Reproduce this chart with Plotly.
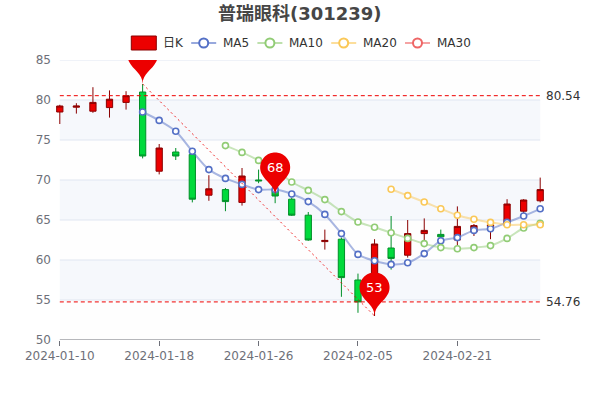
import math
import plotly.graph_objects as go

# ---------------- data ----------------
dates = ["2024-01-10", "2024-01-11", "2024-01-12", "2024-01-15", "2024-01-16",
         "2024-01-17", "2024-01-18", "2024-01-19", "2024-01-22", "2024-01-23",
         "2024-01-24", "2024-01-25", "2024-01-26", "2024-01-29", "2024-01-30",
         "2024-01-31", "2024-02-01", "2024-02-02", "2024-02-05", "2024-02-06",
         "2024-02-07", "2024-02-08", "2024-02-19", "2024-02-20", "2024-02-21",
         "2024-02-22", "2024-02-23", "2024-02-26", "2024-02-27", "2024-02-28"]
opens = [78.5, 79.1, 78.6, 79.05, 79.7, 81.0, 71.1, 73.5, 73.2, 68.1,
         68.8, 67.2, 70.0, 68.8, 67.6, 65.6, 62.3, 62.6, 57.5, 55.2,
         61.5, 60.6, 63.3, 63.2, 62.5, 63.5, 64.2, 64.3, 66.1, 67.4]
closes = [79.25, 79.25, 79.7, 80.1, 80.54, 73.0, 74.0, 73.0, 67.6, 68.9,
          67.3, 70.5, 69.9, 68.0, 65.6, 62.5, 62.45, 57.8, 54.76, 62.0,
          60.2, 63.3, 63.7, 62.9, 64.2, 64.3, 64.4, 67.0, 67.5, 68.8]
highs = [79.4, 79.6, 81.6, 81.2, 81.1, 82.0, 74.5, 74.0, 73.3, 70.6,
         69.0, 71.5, 71.3, 69.5, 67.8, 66.0, 63.8, 62.8, 58.3, 62.6,
         65.5, 65.0, 65.2, 63.8, 66.7, 64.5, 64.5, 67.6, 67.6, 70.3]
lows = [77.0, 78.3, 78.4, 77.8, 78.8, 72.7, 70.7, 72.5, 67.2, 67.4,
        66.1, 66.8, 69.6, 67.1, 65.5, 62.4, 61.3, 55.4, 53.4, 53.0,
        58.8, 60.3, 62.4, 62.2, 61.8, 63.0, 62.6, 64.2, 65.8, 67.2]

ma5 = [None] * 5 + [78.5, 77.45, 76.1, 73.6, 71.3, 70.2, 69.45, 68.8, 68.8, 68.25,
                    67.3, 65.7, 63.3, 60.7, 59.9, 59.45, 59.65, 60.8, 62.4, 62.8,
                    63.7, 63.9, 64.7, 65.5, 66.4]
ma10 = [None] * 10 + [74.3, 73.45, 72.45, 71.4, 69.75, 68.7, 67.55, 66.05, 64.75, 64.1,
                      63.4, 62.7, 62.05, 61.55, 61.4, 61.55, 61.8, 62.7, 64.0, 64.6]
ma20 = [None] * 20 + [68.85, 68.05, 67.25, 66.4, 65.6, 65.1, 64.7, 64.4, 64.4, 64.4]
ma30 = [None] * 30

series_names = ["MA5", "MA10", "MA20", "MA30"]
series_colors = ["#5470c6", "#91cc75", "#fac858", "#ee6666"]
series_rgb = [(84, 112, 198), (145, 204, 117), (250, 200, 88), (238, 102, 102)]

tick_idx = [0, 6, 12, 18, 24]
y_ticks = [50, 55, 60, 65, 70, 75, 80, 85]

max_close = 80.54
min_close = 54.76
pin_points = [(5, 82.0, "82"), (19, 53.0, "53"), (13, 68.0, "68")]

# ---------------- layout geometry ----------------
W, H = 600, 400
ML, MR, MT, MB = 54, 54, 60, 60
PW, PH = W - ML - MR, H - MT - MB
FONT = "DejaVu Sans, Noto Sans CJK SC, sans-serif"


def pxx(px):
    return (px - ML) / PW


def pxy(py):
    return (H - MB - py) / PH


idx = list(range(len(dates)))

fig = go.Figure()
fig.add_trace(go.Candlestick(
    x=idx, open=opens, high=highs, low=lows, close=closes,
    increasing=dict(fillcolor="#ec0000", line=dict(color="#8A0000", width=1)),
    decreasing=dict(fillcolor="#00da3c", line=dict(color="#008F28", width=1)),
    whiskerwidth=0, showlegend=False, hoverinfo="skip",
))
for name, col, rgb, ma in zip(series_names, series_colors, series_rgb, [ma5, ma10, ma20, ma30]):
    fig.add_trace(go.Scatter(
        x=idx, y=ma, mode="lines+markers", name=name,
        line=dict(color="rgba(%d,%d,%d,0.5)" % rgb, width=2, shape="spline", smoothing=0.8),
        marker=dict(symbol="circle", size=6, color="white", line=dict(color=col, width=1.6)),
        showlegend=False, hoverinfo="skip",
    ))

shapes = []
for i in range(len(y_ticks) - 1):
    shapes.append(dict(type="rect", xref="x", yref="y", x0=0, x1=len(dates) - 1,
                       y0=y_ticks[i], y1=y_ticks[i + 1], line=dict(width=0),
                       fillcolor="rgba(250,250,250,0.2)" if i % 2 == 0 else "rgba(210,219,238,0.2)",
                       layer="below"))
for v in y_ticks[1:]:
    shapes.append(dict(type="line", xref="x", yref="y", x0=0, x1=len(dates) - 1, y0=v, y1=v,
                       line=dict(color="#E0E6F1", width=1), layer="below"))
shapes.append(dict(type="line", xref="x", yref="y", x0=0, x1=len(dates) - 1, y0=50, y1=50,
                   line=dict(color="#6E7079", width=1), layer="below"))
for v in (max_close, min_close):
    shapes.append(dict(type="line", xref="x", yref="y", x0=0, x1=len(dates) - 1, y0=v, y1=v,
                       line=dict(color="#ee0000", width=1, dash="4px,3px"), layer="above"))
(p0, p1) = pin_points[0], pin_points[1]
shapes.append(dict(type="line", xref="x", yref="y", x0=p0[0], y0=p0[1], x1=p1[0], y1=p1[1],
                   line=dict(color="rgba(236,0,0,0.85)", width=1, dash="2px,3px"), layer="above"))


def pin_path(h=50.0, w=30.0):
    r = w / 2
    dy = r * r / (h - r)
    cy = h - r - dy
    a = math.asin(dy / r)
    dx = math.cos(a) * r
    tx, ty = math.sin(a), math.cos(a)
    cp, cp2 = r * 0.6, r * 0.7
    pts = []
    n = 48
    t0, t1 = math.pi + a, -a
    for k in range(n + 1):
        t = t0 + (t1 - t0) * k / n
        pts.append((r * math.cos(t), cy + r * math.sin(t)))
    d = "M %.2f,%.2f " % pts[0]
    for p in pts[1:]:
        d += "L %.2f,%.2f " % p
    d += "C %.2f,%.2f %.2f,%.2f %.2f,%.2f " % (dx - tx * cp, cy - dy - ty * cp, 0, cp2, 0, 0)
    d += "C %.2f,%.2f %.2f,%.2f %.2f,%.2f Z" % (0, cp2, -dx + tx * cp, cy - dy - ty * cp, -dx, cy - dy)
    return d, cy


PIN, PIN_CY = pin_path()
annotations = []
for (xi, val, lab) in pin_points:
    shapes.append(dict(type="path", xref="x", yref="y", xsizemode="pixel", ysizemode="pixel",
                       xanchor=xi, yanchor=val, path=PIN, fillcolor="#ec0000",
                       line=dict(width=0), layer="above"))
    annotations.append(dict(x=xi, y=val, xref="x", yref="y", text=lab, showarrow=False,
                            yshift=PIN_CY, font=dict(family=FONT, size=13, color="white")))

for v in (max_close, min_close):
    annotations.append(dict(x=len(dates) - 1, y=v, xref="x", yref="y", text="%.2f" % v,
                            showarrow=False, xanchor="left", xshift=4,
                            font=dict(family=FONT, size=12, color="#333")))

annotations.append(dict(x=pxx(300), y=pxy(14), xref="paper", yref="paper", text="<b>普瑞眼科(301239)</b>",
                        showarrow=False, xanchor="center", yanchor="middle",
                        font=dict(family=FONT, size=18, color="#464646")))

LY = 43
lx = 131.3
shapes.append(dict(type="rect", xref="paper", yref="paper", x0=pxx(lx), x1=pxx(lx + 25),
                   y0=pxy(LY + 7), y1=pxy(LY - 7), fillcolor="#ec0000",
                   line=dict(color="#8A0000", width=1), layer="above"))
annotations.append(dict(x=pxx(lx + 30), y=pxy(LY), xref="paper", yref="paper", text="日K",
                        showarrow=False, xanchor="left", yanchor="middle",
                        font=dict(family=FONT, size=12, color="#333")))
legend_x = [191.2, 257.4, 331.2, 405.0]
for name, col, rgb, x0 in zip(series_names, series_colors, series_rgb, legend_x):
    shapes.append(dict(type="line", xref="paper", yref="paper", x0=pxx(x0), x1=pxx(x0 + 25),
                       y0=pxy(LY), y1=pxy(LY), line=dict(color="rgba(%d,%d,%d,0.6)" % rgb, width=2),
                       layer="above"))
    shapes.append(dict(type="circle", xref="paper", yref="paper", xsizemode="pixel", ysizemode="pixel",
                       xanchor=pxx(x0 + 12.5), yanchor=pxy(LY), x0=-4.5, x1=4.5, y0=-4.5, y1=4.5,
                       fillcolor="white", line=dict(color=col, width=2), layer="above"))
    annotations.append(dict(x=pxx(x0 + 30), y=pxy(LY), xref="paper", yref="paper", text=name,
                            showarrow=False, xanchor="left", yanchor="middle",
                            font=dict(family=FONT, size=12, color="#333")))

fig.update_layout(
    width=W, height=H, margin=dict(l=ML, r=MR, t=MT, b=MB),
    paper_bgcolor="white", plot_bgcolor="white",
    showlegend=False, boxgap=0.46, hovermode=False,
    shapes=shapes, annotations=annotations,
    font=dict(family=FONT, size=12, color="#6E7079"),
    xaxis=dict(type="linear", range=[-0.35, len(dates) - 1 + 0.35],
               tickvals=tick_idx, ticktext=[dates[i] for i in tick_idx],
               ticks="outside", ticklen=5, tickcolor="#6E7079", showgrid=False,
               zeroline=False, showline=False, rangeslider=dict(visible=False),
               tickfont=dict(family=FONT, size=12, color="#6E7079")),
    yaxis=dict(range=[50, 85], tickvals=y_ticks, showgrid=False, zeroline=False,
               showline=False, ticks="", ticklabelstandoff=2,
               tickfont=dict(family=FONT, size=12, color="#6E7079")),
)

fig.write_html("out.html", config={"displayModeBar": False},
               post_script="document.body.style.margin='0px';document.body.style.padding='0px';")
